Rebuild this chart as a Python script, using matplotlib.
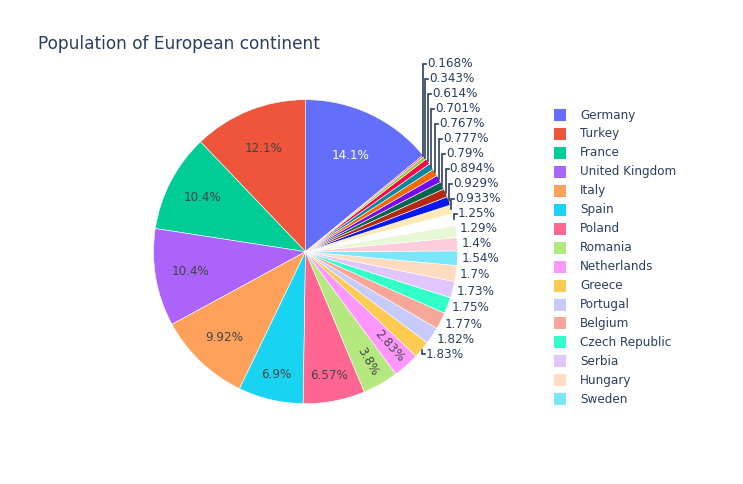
import colorsys
import matplotlib
matplotlib.use("Agg")
import matplotlib.pyplot as plt
from matplotlib.colors import to_rgb
from matplotlib.patches import Rectangle
import numpy as np

W, H = 743, 484
PX = 0.72  # px -> pt at dpi 100

# --- data: gapminder 2007, Europe (countries under 2M merged) ---
countries = ["Germany", "Turkey", "France", "United Kingdom", "Italy", "Spain",
             "Poland", "Romania", "Netherlands", "Greece", "Portugal", "Belgium",
             "Czech Republic", "Serbia", "Hungary", "Sweden", "Austria",
             "Switzerland", "Bulgaria", "Denmark", "Slovak Republic", "Finland",
             "Norway", "Bosnia and Herzegovina", "Croatia", "Ireland", "Albania",
             "Slovenia", "Other countries"]
population = [82400996, 71158647, 61083916, 60776238, 58147733, 40448191,
              38518241, 22276056, 16570613, 10706290, 10642836, 10392226,
              10228744, 10150265, 9956108, 9031088, 8199783,
              7554661, 7322858, 5468120, 5447502, 5238460,
              4627926, 4552198, 4493312, 4109086, 3600523,
              2009245, 986667]

colorway = ["#636efa", "#EF553B", "#00cc96", "#ab63fa", "#FFA15A",
            "#19d3f3", "#FF6692", "#B6E880", "#FF97FF", "#FECB52"]
TEXT = "#2a3f5f"


def shade(c, amount):
    # same idea as tinycolor lighten/darken (HSL lightness shift)
    h, l, s = colorsys.rgb_to_hls(*to_rgb(c))
    l = min(1.0, max(0.0, l + amount))
    return colorsys.hls_to_rgb(h, l, s)


def contrast(rgb):
    r, g, b = [v * 255 for v in rgb]
    return "#444444" if (r * 299 + g * 587 + b * 114) / 1000 > 128 else "white"


colors = [shade(colorway[i % 10], [0, 0.2, -0.2][i // 10]) for i in range(len(population))]

fig = plt.figure(figsize=(W / 100, H / 100), dpi=100)
ax = fig.add_axes([0, 0, 1, 1])

vals = np.array(population, dtype=float)
frac = vals / vals.sum()
CX, CY, R = 305.5, H - 251.7, 152

wedges, _ = ax.pie(vals, colors=colors, startangle=90 - 360 * frac[0],
                   counterclock=True, center=(CX, CY), radius=R,
                   wedgeprops=dict(linewidth=0.4, edgecolor="white"))
ax.set_xlim(0, W)
ax.set_ylim(0, H)
ax.set_aspect("auto")
ax.axis("off")

LINE = 15.0
prev_y = None
for i, (w, f) in enumerate(zip(wedges, frac)):
    mid = np.deg2rad((w.theta1 + w.theta2) / 2)
    label = f"{100 * f:.3g}%"
    if f >= 0.025:
        rf = 0.70 + 0.13 * np.clip((0.14 - f) / 0.07, 0, 1)
        x = CX + R * rf * np.cos(mid)
        y = CY + R * rf * np.sin(mid)
        rot = 0
        if f < 0.05:
            rot = np.rad2deg(mid) % 360
            if rot > 90:
                rot -= 360
            if rot < -90:
                rot += 180
        ax.text(x, y, label, ha="center", va="center", rotation=rot,
                rotation_mode="anchor", fontsize=12 * PX, color=contrast(colors[i]))
        continue
    # outside labels, stacked upward
    ex, ey = CX + R * np.cos(mid), CY + R * np.sin(mid)
    nat_y = ey + 7 * np.sin(mid)
    ly = nat_y if prev_y is None else max(nat_y, prev_y + LINE)
    prev_y = ly
    tx = ex + 4
    if ly - nat_y > 2.5 or abs(ly - ey) > 4:
        ax.plot([ex, ex, tx - 1], [ey, ly, ly], color=TEXT, lw=1.2,
                solid_joinstyle="miter")
    ax.text(tx, ly, label, ha="left", va="center", fontsize=12 * PX, color=TEXT)

# title
fig.text(38 / W, 1 - 44 / H, "Population of European continent",
         fontsize=17 * PX, color=TEXT, va="center", ha="left")

# legend (plotly clips it to the plot height)
for i in range(16):
    y = H - (115 + i * 18.95)
    ax.add_patch(Rectangle((554, y - 6), 12, 12, facecolor=colors[i], edgecolor="none"))
    ax.text(580, y, countries[i], ha="left", va="center", fontsize=12 * PX, color=TEXT)

fig.savefig("out.png", dpi=100)
